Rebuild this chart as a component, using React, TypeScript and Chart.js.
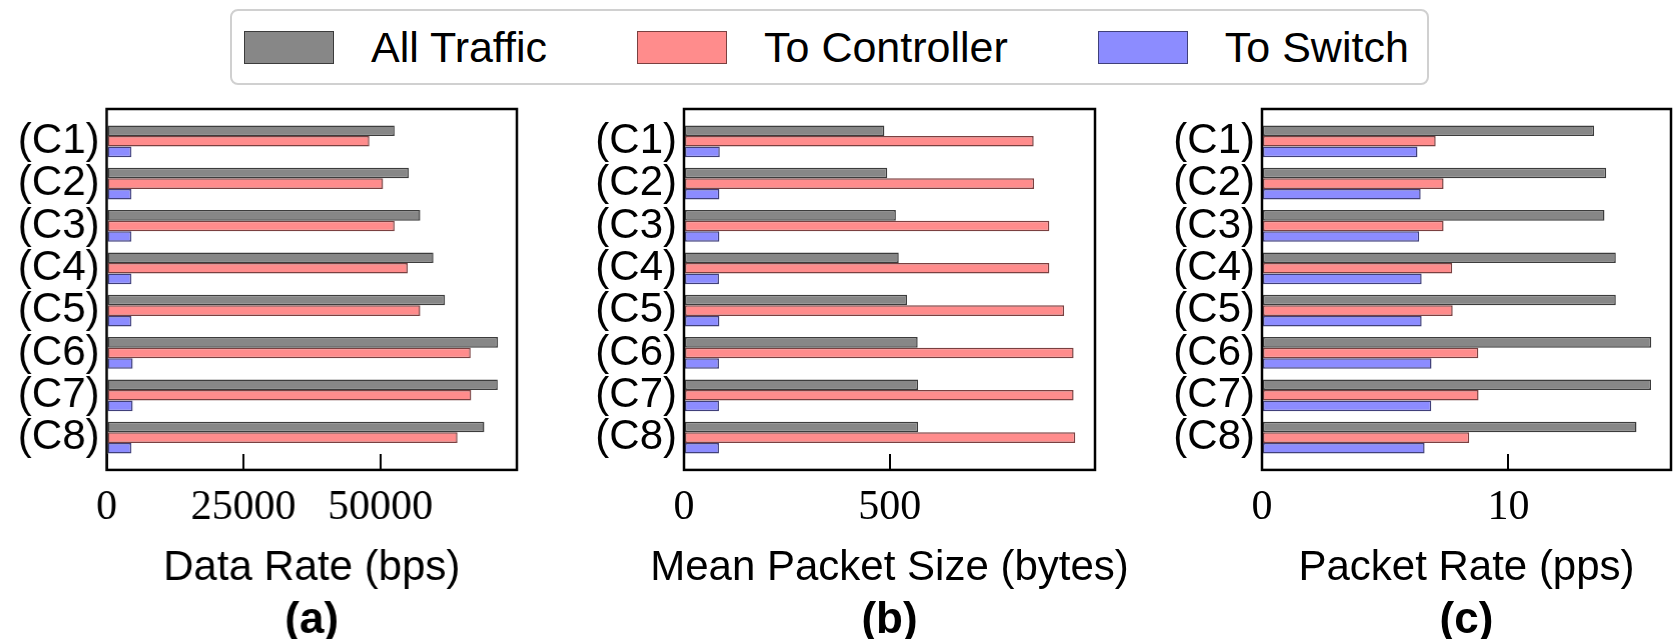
import React, { useEffect, useRef } from "react";
import { Chart, registerables } from "chart.js";

Chart.register(...registerables);

const SANS = "'Liberation Sans', Arial, sans-serif";
const SERIF = "'Liberation Serif', 'Times New Roman', serif";

// ---- data ----
const categories = ["(C1)", "(C2)", "(C3)", "(C4)", "(C5)", "(C6)", "(C7)", "(C8)"];
const seriesNames = ["All Traffic", "To Controller", "To Switch"];

// (a) Data Rate (bps)
const dataRateAll = [52600, 55200, 57300, 59700, 61800, 71500, 71450, 69000];
const dataRateCtrl = [48000, 50500, 52600, 55000, 57300, 66500, 66600, 64100];
const dataRateSwitch = [4500, 4500, 4500, 4500, 4500, 4750, 4750, 4500];
const dataRateTicks = [0, 25000, 50000];

// (b) Mean Packet Size (bytes)
const pktSizeAll = [487, 494, 515, 522, 542, 568, 569, 569];
const pktSizeCtrl = [850, 851, 888, 888, 924, 947, 947, 951];
const pktSizeSwitch = [87, 86, 86, 85, 86, 85, 85, 85];
const pktSizeTicks = [0, 500];

// (c) Packet Rate (pps)
const pktRateAll = [13.48, 13.97, 13.9, 14.36, 14.36, 15.8, 15.79, 15.2];
const pktRateCtrl = [7.05, 7.37, 7.37, 7.72, 7.74, 8.78, 8.79, 8.41];
const pktRateSwitch = [6.31, 6.44, 6.38, 6.48, 6.48, 6.88, 6.87, 6.6];
const pktRateTicks = [0, 10];

const fills = ["#878787", "#ff8c8c", "#8c8cff"];
const edges = ["#3c3c3c", "#7a4040", "#40407a"];

const framePlugin = {
  id: "frame",
  afterDatasetsDraw(chart: any) {
    const { ctx, chartArea } = chart;
    ctx.save();
    ctx.strokeStyle = "#000";
    ctx.lineWidth = 2.5;
    ctx.strokeRect(chartArea.left, chartArea.top, chartArea.right - chartArea.left, chartArea.bottom - chartArea.top);
    ctx.restore();
  },
};

type PanelProps = {
  left: number;
  width: number;
  yAxisWidth: number;
  padRight: number;
  xMax: number;
  xTicks: number[];
  xTitle: string;
  panelTitle: string;
  series: number[][];
};

function Panel(props: PanelProps) {
  const ref = useRef<HTMLCanvasElement | null>(null);
  useEffect(() => {
    if (!ref.current) return;
    const { yAxisWidth, padRight, xMax, xTicks, xTitle, panelTitle, series } = props;
    const chart = new Chart(ref.current, {
      type: "bar",
      data: {
        datasets: series.map((vals, k) => ({
          label: seriesNames[k],
          data: vals.map((v, i) => ({ x: v, y: i })),
          backgroundColor: fills[k],
          borderColor: edges[k],
          borderWidth: 1.5,
          borderSkipped: false,
          categoryPercentage: 0.75,
          barPercentage: 1,
        })),
      } as any,
      options: {
        indexAxis: "y",
        animation: false,
        responsive: true,
        maintainAspectRatio: false,
        layout: { padding: { top: 109, right: 0, bottom: 0, left: 0 } },
        plugins: {
          legend: { display: false },
          tooltip: { enabled: false },
          subtitle: {
            display: true,
            position: "bottom",
            fullSize: true,
            text: xTitle,
            color: "#000",
            font: { family: SANS, size: 42, weight: "normal", lineHeight: 1.2 },
            padding: { top: 13, bottom: 9.6 },
          },
          title: {
            display: true,
            position: "bottom",
            fullSize: false,
            text: panelTitle,
            color: "#000",
            font: { family: SANS, size: 44, weight: "bold", lineHeight: 0.82 },
            padding: 0,
          },
        },
        scales: {
          x: {
            type: "linear",
            min: 0,
            max: xMax,
            position: "bottom",
            afterBuildTicks: (s: any) => {
              s.ticks = xTicks.map((v) => ({ value: v }));
            },
            afterFit: (s: any) => {
              s.height = 60;
            },
            ticks: {
              font: { family: SERIF, size: 42, lineHeight: 1.2 },
              color: "#000",
              padding: 29,
              maxRotation: 0,
              autoSkip: false,
              callback: (v: any) => String(v),
            },
            grid: {
              drawOnChartArea: false,
              drawTicks: true,
              tickLength: -16,
              tickWidth: 2,
              tickColor: "#000",
              color: "#000",
              lineWidth: 2,
            },
            border: { display: false },
          },
          y: {
            type: "linear",
            min: -0.7625,
            max: 7.7625,
            reverse: true,
            offset: false,
            position: "left",
            afterBuildTicks: (s: any) => {
              s.ticks = categories.map((_, i) => ({ value: i }));
            },
            afterFit: (s: any) => {
              s.width = yAxisWidth;
            },
            ticks: {
              font: { family: SANS, size: 42 },
              color: "#000",
              padding: 7,
              autoSkip: false,
              callback: (v: any) => categories[v] ?? "",
            },
            grid: { display: false, drawTicks: false, offset: false },
            border: { display: false },
          },
          yRight: {
            type: "linear",
            position: "right",
            display: true,
            min: 0,
            max: 1,
            afterFit: (s: any) => {
              s.width = padRight;
            },
            ticks: { display: false },
            grid: { display: false, drawTicks: false },
            border: { display: false },
          },
        },
      } as any,
      plugins: [framePlugin],
    });
    return () => chart.destroy();
  }, []);
  return (
    <div style={{ position: "absolute", left: props.left, top: 0, width: props.width, height: 639 }}>
      <canvas ref={ref} />
    </div>
  );
}

function LegendItem({ k, last }: { k: number; last?: boolean }) {
  return (
    <div style={{ display: "flex", alignItems: "center", marginRight: last ? 0 : 90 }}>
      <div
        style={{
          width: 90,
          height: 33,
          boxSizing: "border-box",
          background: fills[k],
          border: `1.5px solid ${edges[k]}`,
          marginRight: 37,
        }}
      />
      <span style={{ fontFamily: SANS, fontSize: 43, color: "#000", lineHeight: 1 }}>{seriesNames[k]}</span>
    </div>
  );
}

export default function App() {
  return (
    <div style={{ position: "absolute", left: 0, top: 0, width: 1673, height: 639, background: "#fff", overflow: "hidden" }}>
      <div
        style={{
          position: "absolute",
          left: 230,
          top: 9,
          width: 1199,
          height: 76,
          boxSizing: "border-box",
          border: "2px solid #d0d0d0",
          borderRadius: 8,
          display: "flex",
          alignItems: "center",
          paddingLeft: 12,
        }}
      >
        <LegendItem k={0} />
        <LegendItem k={1} />
        <LegendItem k={2} last />
      </div>
      <Panel
        left={0}
        width={622.5}
        yAxisWidth={106.5}
        padRight={106.5}
        xMax={74950}
        xTicks={dataRateTicks}
        xTitle="Data Rate (bps)"
        panelTitle="(a)"
        series={[dataRateAll, dataRateCtrl, dataRateSwitch]}
      />
      <Panel
        left={560}
        width={659}
        yAxisWidth={124}
        padRight={124}
        xMax={999}
        xTicks={pktSizeTicks}
        xTitle="Mean Packet Size (bytes)"
        panelTitle="(b)"
        series={[pktSizeAll, pktSizeCtrl, pktSizeSwitch]}
      />
      <Panel
        left={1140}
        width={653}
        yAxisWidth={122}
        padRight={122}
        xMax={16.6}
        xTicks={pktRateTicks}
        xTitle="Packet Rate (pps)"
        panelTitle="(c)"
        series={[pktRateAll, pktRateCtrl, pktRateSwitch]}
      />
    </div>
  );
}
